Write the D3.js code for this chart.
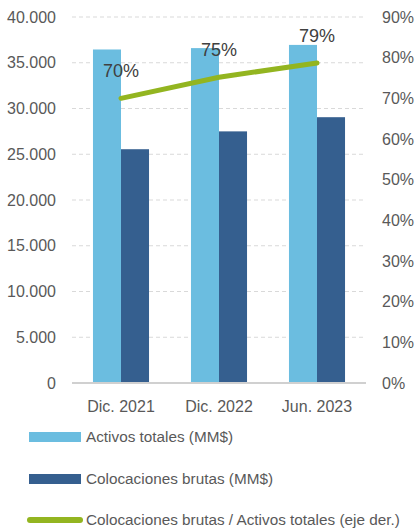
<!DOCTYPE html>
<html>
<head>
<meta charset="utf-8">
<script src="https://cdn.jsdelivr.net/npm/d3@7"></script>
<style>
  body { margin: 0; background: #fff; }
  text { font-family: "Liberation Sans", Arial, sans-serif; }
</style>
</head>
<body>
<div id="viz"></div>
<script>
var categories = ['Dic. 2021', 'Dic. 2022', 'Jun. 2023'];
var activos = [36450, 36600, 36950];
var colocaciones = [25550, 27500, 29050];
var ratio = [0.70, 0.752, 0.787];
var ratioLabels = ['70%', '75%', '79%'];
var leftTicks = [0, 5000, 10000, 15000, 20000, 25000, 30000, 35000, 40000];
var rightTicks = [0, 0.1, 0.2, 0.3, 0.4, 0.5, 0.6, 0.7, 0.8, 0.9];
var legendNames = ['Activos totales (MM$)', 'Colocaciones brutas (MM$)', 'Colocaciones brutas / Activos totales (eje der.)'];

var width = 417, height = 531;
var margin = {top: 17, left: 72, right: 51, bottom: 148};
var plotW = width - margin.left - margin.right;
var plotH = height - margin.top - margin.bottom;
var colors = ['#6bbde0', '#355f8f', '#93b520'];

var svg = d3.select('#viz').append('svg')
  .attr('width', width)
  .attr('height', height);

var x = d3.scaleBand().domain(categories).range([0, plotW]).padding(0);
var inner = d3.scaleBand().domain([0, 1]).range([x.bandwidth()*0.214, x.bandwidth()*0.786]);
var yL = d3.scaleLinear().domain([0, 40000]).range([plotH, 0]);
var yR = d3.scaleLinear().domain([0, 0.9]).range([plotH, 0]);

var g = svg.append('g').attr('transform', 'translate(' + margin.left + ',' + margin.top + ')');

// grid
g.append('g').selectAll('line').data(leftTicks.slice(1)).enter().append('line')
  .attr('x1', 0).attr('x2', plotW)
  .attr('y1', d => yL(d)).attr('y2', d => yL(d))
  .attr('stroke', '#d9d9d9').attr('stroke-dasharray', '4,3');

// bars
var series = [activos, colocaciones];
series.forEach(function(vals, s) {
  g.append('g').selectAll('rect').data(vals).enter().append('rect')
    .attr('x', (d, i) => x(categories[i]) + inner(s))
    .attr('width', inner.bandwidth())
    .attr('y', d => yL(d))
    .attr('height', d => plotH - yL(d))
    .attr('fill', colors[s]);
});

// baseline
g.append('line').attr('x1', 0).attr('x2', plotW).attr('y1', plotH).attr('y2', plotH)
  .attr('stroke', '#d0d0d0').attr('stroke-width', 2);

// ratio line
var line = d3.line()
  .x((d, i) => x(categories[i]) + x.bandwidth()/2)
  .y(d => yR(d));
g.append('path').datum(ratio)
  .attr('d', line)
  .attr('fill', 'none')
  .attr('stroke', colors[2])
  .attr('stroke-width', 5)
  .attr('stroke-linecap', 'round');

g.append('g').selectAll('text').data(ratio).enter().append('text')
  .attr('x', (d, i) => x(categories[i]) + x.bandwidth()/2)
  .attr('y', d => yR(d) - 21)
  .attr('text-anchor', 'middle')
  .attr('font-size', 18)
  .attr('fill', '#404040')
  .text((d, i) => ratioLabels[i]);

// axes
var fmt = d3.formatLocale({decimal: ',', thousands: '.', grouping: [3], currency: ['$', '']}).format(',');
var leftAxis = g.append('g').call(d3.axisLeft(yL).tickValues(leftTicks).tickSize(0).tickPadding(16).tickFormat(fmt));
var rightAxis = g.append('g').attr('transform', 'translate(' + plotW + ',0)')
  .call(d3.axisRight(yR).tickValues(rightTicks).tickSize(0).tickPadding(16).tickFormat(d3.format('.0%')));
var bottomAxis = g.append('g').attr('transform', 'translate(0,' + plotH + ')')
  .call(d3.axisBottom(x).tickSize(0).tickPadding(18));
[leftAxis, rightAxis, bottomAxis].forEach(function(a) {
  a.select('.domain').remove();
  a.selectAll('text').attr('font-size', 16).attr('fill', '#595959')
    .attr('font-family', '"Liberation Sans", Arial, sans-serif');
});

// legend
var legend = svg.append('g');
var legY = [437, 479, 520];
legendNames.forEach(function(name, i) {
  if (i < 2) {
    legend.append('rect').attr('x', 29).attr('y', legY[i] - 5).attr('width', 52).attr('height', 10).attr('fill', colors[i]);
  } else {
    legend.append('line').attr('x1', 30).attr('x2', 80).attr('y1', legY[i]).attr('y2', legY[i])
      .attr('stroke', colors[i]).attr('stroke-width', 6).attr('stroke-linecap', 'round');
  }
  legend.append('text').attr('x', 86).attr('y', legY[i]).attr('dy', '0.35em')
    .attr('font-size', 15.3).attr('fill', '#595959').text(name);
});
</script>
</body>
</html>
